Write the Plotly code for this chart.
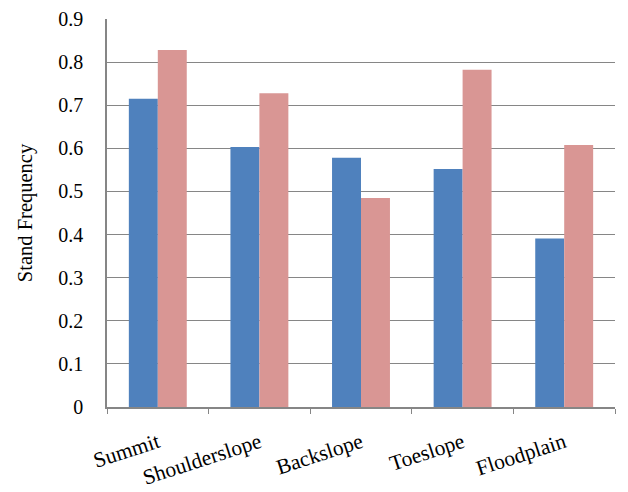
import plotly.graph_objects as go

categories = ["Summit", "Shoulderslope", "Backslope", "Toeslope", "Floodplain"]
series_a = [0.715, 0.603, 0.578, 0.552, 0.391]
series_b = [0.828, 0.728, 0.485, 0.782, 0.608]

fig = go.Figure()
fig.add_trace(go.Bar(x=categories, y=series_a, marker=dict(color="#4F81BD", line=dict(width=0)), name="A"))
fig.add_trace(go.Bar(x=categories, y=series_b, marker=dict(color="#D99694", line=dict(width=0)), name="B"))

ser = "Liberation Serif, Times New Roman, serif"
fig.update_layout(
    width=628, height=492,
    margin=dict(l=107, r=13, t=19, b=85),
    paper_bgcolor="white", plot_bgcolor="white",
    barmode="group", bargap=0.43, bargroupgap=0,
    showlegend=False,
    font=dict(family=ser, size=20, color="black"),
    xaxis=dict(
        showline=True, linecolor="#868686", linewidth=1.5,
        ticks="outside", tickson="boundaries", ticklen=5, tickcolor="#868686",
        tickangle=-18, ticklabelstandoff=13, automargin=False,
        tickfont=dict(family=ser, size=21.5, color="black"), showgrid=False,
    ),
    yaxis=dict(
        range=[0, 0.9], dtick=0.1, tickformat="~g",
        showline=True, linecolor="#868686", linewidth=1.5,
        ticks="outside", ticklen=5, tickcolor="rgba(0,0,0,0)", ticklabelstandoff=13,
        showgrid=True, gridcolor="#868686", gridwidth=1.2, automargin=False,
        zeroline=False, tickfont=dict(family=ser, size=20, color="black"),
        title=dict(text="Stand Frequency", font=dict(family=ser, size=20.5, color="black"), standoff=20),
    ),
)
fig.write_html("out.html")
